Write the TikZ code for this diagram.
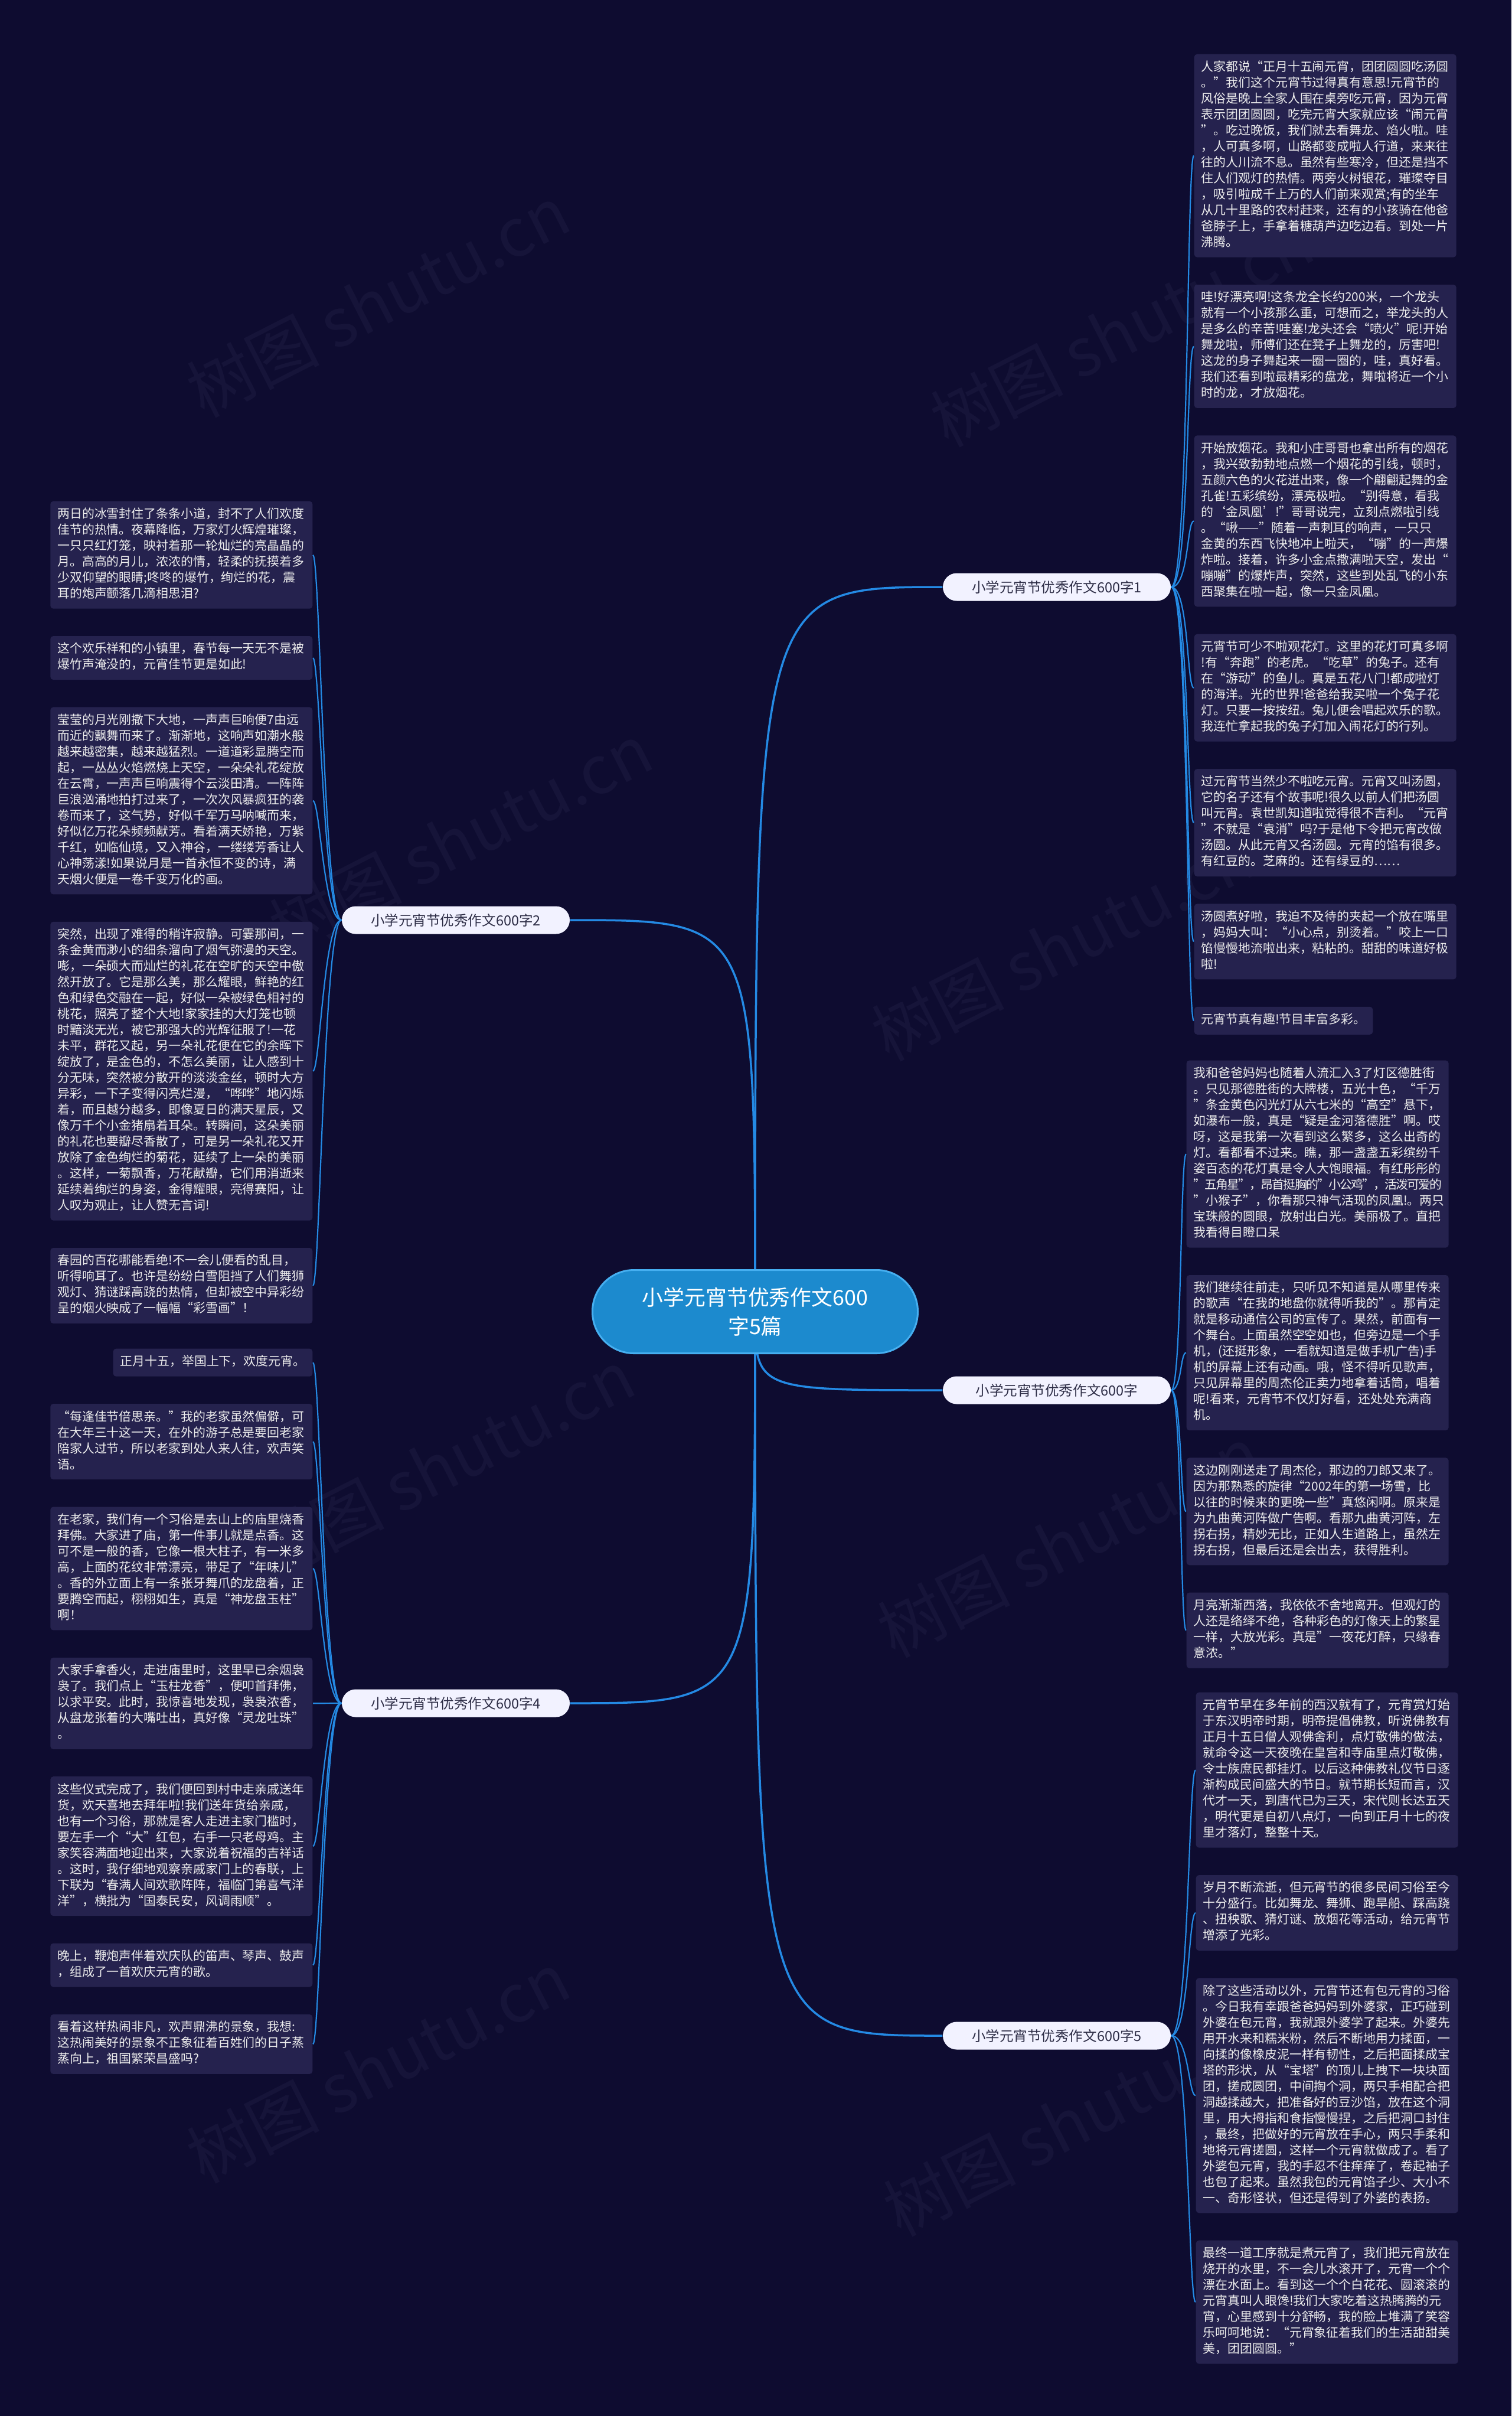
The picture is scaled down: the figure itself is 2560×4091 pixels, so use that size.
\documentclass[tikz,border=0pt]{standalone}
\usepackage{fontspec}
\setmainfont{Noto Sans CJK SC}
\usetikzlibrary{positioning,backgrounds}
\definecolor{bgnavy}{RGB}{14,12,48}
\definecolor{cardnavy}{RGB}{37,34,78}
\definecolor{linkblue}{RGB}{36,138,228}
\definecolor{hubblue}{RGB}{28,138,206}
\definecolor{hubrim}{RGB}{70,175,240}
\definecolor{pillink}{RGB}{45,45,70}
\definecolor{marknavy}{RGB}{22,20,57}

\begin{document}
\begin{tikzpicture}[
  x=0.1mm, y=-0.1mm,
  node distance=4.5mm,
  cardbase/.style={fill=cardnavy, rounded corners=0.5mm, text=white!93!black, font=\fontsize{5.95pt}{7.68pt}\selectfont, inner xsep=1.2mm, inner ysep=1mm, execute at begin node=\strut, execute at end node=\strut},
  card/.style={cardbase, text width=42mm, align=left},
  note/.style={cardbase},
  pill/.style={fill=white!95!blue, rounded corners=2.35mm, minimum width=38.6mm, minimum height=4.7mm, inner sep=0pt, text=pillink, font=\fontsize{6.7pt}{8pt}\selectfont},
  hub/.style={fill=hubblue, draw=hubrim, line width=0.3mm, rounded corners=7mm, minimum width=55.1mm, minimum height=14.1mm, align=center, text=white, font=\fontsize{10.2pt}{14pt}\selectfont},
  trunk/.style={draw=linkblue, line width=0.35mm},
  twig/.style={draw=linkblue, line width=0.22mm},
  wmark/.style={text=marknavy, rotate=27, font=\fontsize{32pt}{32pt}\selectfont}
]
\useasboundingbox (0,0) rectangle (2560,4091);

% centre and the five essays
\node[hub] (hub) at (1279,2221) {小学元宵节优秀作文600\\字5篇};
\node[pill] (s1) at (1790,994) {小学元宵节优秀作文600字1};
\node[pill] (s2) at (772,1558) {小学元宵节优秀作文600字2};
\node[pill] (s3) at (1790,2354) {小学元宵节优秀作文600字};
\node[pill] (s4) at (772,2884) {小学元宵节优秀作文600字4};
\node[pill] (s5) at (1790,3447) {小学元宵节优秀作文600字5};

% essay 1
\node[card, anchor=north west] (r1) at (2022,91) {人家都说“正月十五闹元宵，团团圆圆吃汤圆\\
。”我们这个元宵节过得真有意思!元宵节的\\
风俗是晚上全家人围在桌旁吃元宵，因为元宵\\
表示团团圆圆，吃完元宵大家就应该“闹元宵\\
”。吃过晚饭，我们就去看舞龙、焰火啦。哇\\
，人可真多啊，山路都变成啦人行道，来来往\\
往的人川流不息。虽然有些寒冷，但还是挡不\\
住人们观灯的热情。两旁火树银花，璀璨夺目\\
，吸引啦成千上万的人们前来观赏;有的坐车\\
从几十里路的农村赶来，还有的小孩骑在他爸\\
爸脖子上，手拿着糖葫芦边吃边看。到处一片\\
沸腾。};
\node[card, below=of r1] (r2) {哇!好漂亮啊!这条龙全长约200米，一个龙头\\
就有一个小孩那么重，可想而之，举龙头的人\\
是多么的辛苦!哇塞!龙头还会“喷火”呢!开始\\
舞龙啦，师傅们还在凳子上舞龙的，厉害吧!\\
这龙的身子舞起来一圈一圈的，哇，真好看。\\
我们还看到啦最精彩的盘龙，舞啦将近一个小\\
时的龙，才放烟花。};
\node[card, below=of r2] (r3) {开始放烟花。我和小庄哥哥也拿出所有的烟花\\
，我兴致勃勃地点燃一个烟花的引线，顿时，\\
五颜六色的火花迸出来，像一个翩翩起舞的金\\
孔雀!五彩缤纷，漂亮极啦。“别得意，看我\\
的‘金凤凰’!”哥哥说完，立刻点燃啦引线\\
。“啾——”随着一声刺耳的响声，一只只\\
金黄的东西飞快地冲上啦天，“嘣”的一声爆\\
炸啦。接着，许多小金点撒满啦天空，发出“\\
嘣嘣”的爆炸声，突然，这些到处乱飞的小东\\
西聚集在啦一起，像一只金凤凰。};
\node[card, below=of r3] (r4) {元宵节可少不啦观花灯。这里的花灯可真多啊\\
!有“奔跑”的老虎。“吃草”的兔子。还有\\
在“游动”的鱼儿。真是五花八门!都成啦灯\\
的海洋。光的世界!爸爸给我买啦一个兔子花\\
灯。只要一按按纽。兔儿便会唱起欢乐的歌。\\
我连忙拿起我的兔子灯加入闹花灯的行列。};
\node[card, below=of r4] (r5) {过元宵节当然少不啦吃元宵。元宵又叫汤圆，\\
它的名子还有个故事呢!很久以前人们把汤圆\\
叫元宵。袁世凯知道啦觉得很不吉利。“元宵\\
”不就是“袁消”吗?于是他下令把元宵改做\\
汤圆。从此元宵又名汤圆。元宵的馅有很多。\\
有红豆的。芝麻的。还有绿豆的……};
\node[card, below=of r5] (r6) {汤圆煮好啦，我迫不及待的夹起一个放在嘴里\\
，妈妈大叫：“小心点，别烫着。”咬上一口\\
馅慢慢地流啦出来，粘粘的。甜甜的味道好极\\
啦!};
\node[note, below=of r6.south west, anchor=north west] (r7) {元宵节真有趣!节目丰富多彩。};

% essay 3
\node[card, anchor=north west] (r8) at (2009,1795) {我和爸爸妈妈也随着人流汇入3了灯区德胜街\\
。只见那德胜街的大牌楼，五光十色，“千万\\
”条金黄色闪光灯从六七米的“高空”悬下，\\
如瀑布一般，真是“疑是金河落德胜”啊。哎\\
呀，这是我第一次看到这么繁多，这么出奇的\\
灯。看都看不过来。瞧，那一盏盏五彩缤纷千\\
姿百态的花灯真是令人大饱眼福。有红彤彤的\\
{\addfontfeature{LetterSpace=-9}"五角星"，昂首挺胸的"小公鸡"，活泼可爱的}\\
"小猴子"，你看那只神气活现的凤凰!。两只\\
宝珠般的圆眼，放射出白光。美丽极了。直把\\
我看得目瞪口呆};
\node[card, below=of r8] (r9) {我们继续往前走，只听见不知道是从哪里传来\\
的歌声“在我的地盘你就得听我的”。那肯定\\
就是移动通信公司的宣传了。果然，前面有一\\
个舞台。上面虽然空空如也，但旁边是一个手\\
机，(还挺形象，一看就知道是做手机广告)手\\
机的屏幕上还有动画。哦，怪不得听见歌声，\\
只见屏幕里的周杰伦正卖力地拿着话筒，唱着\\
呢!看来，元宵节不仅灯好看，还处处充满商\\
机。};
\node[card, below=of r9] (r10) {这边刚刚送走了周杰伦，那边的刀郎又来了。\\
因为那熟悉的旋律“2002年的第一场雪，比\\
以往的时候来的更晚一些”真悠闲啊。原来是\\
为九曲黄河阵做广告啊。看那九曲黄河阵，左\\
拐右拐，精妙无比，正如人生道路上，虽然左\\
拐右拐，但最后还是会出去，获得胜利。};
\node[card, below=of r10] (r11) {月亮渐渐西落，我依依不舍地离开。但观灯的\\
人还是络绎不绝，各种彩色的灯像天上的繁星\\
一样，大放光彩。真是"一夜花灯醉，只缘春\\
意浓。"};

% essay 5
\node[card, anchor=north west] (r12) at (2025,2865) {元宵节早在多年前的西汉就有了，元宵赏灯始\\
于东汉明帝时期，明帝提倡佛教，听说佛教有\\
正月十五日僧人观佛舍利，点灯敬佛的做法，\\
就命令这一天夜晚在皇宫和寺庙里点灯敬佛，\\
令士族庶民都挂灯。以后这种佛教礼仪节日逐\\
渐构成民间盛大的节日。就节期长短而言，汉\\
代才一天，到唐代已为三天，宋代则长达五天\\
，明代更是自初八点灯，一向到正月十七的夜\\
里才落灯，整整十天。};
\node[card, below=of r12] (r13) {岁月不断流逝，但元宵节的很多民间习俗至今\\
十分盛行。比如舞龙、舞狮、跑旱船、踩高跷\\
、扭秧歌、猜灯谜、放烟花等活动，给元宵节\\
增添了光彩。};
\node[card, below=of r13] (r14) {除了这些活动以外，元宵节还有包元宵的习俗\\
。今日我有幸跟爸爸妈妈到外婆家，正巧碰到\\
外婆在包元宵，我就跟外婆学了起来。外婆先\\
用开水来和糯米粉，然后不断地用力揉面，一\\
向揉的像橡皮泥一样有韧性，之后把面揉成宝\\
塔的形状，从“宝塔”的顶儿上拽下一块块面\\
团，搓成圆团，中间掏个洞，两只手相配合把\\
洞越揉越大，把准备好的豆沙馅，放在这个洞\\
里，用大拇指和食指慢慢捏，之后把洞口封住\\
，最终，把做好的元宵放在手心，两只手柔和\\
地将元宵搓圆，这样一个元宵就做成了。看了\\
外婆包元宵，我的手忍不住痒痒了，卷起袖子\\
也包了起来。虽然我包的元宵馅子少、大小不\\
一、奇形怪状，但还是得到了外婆的表扬。};
\node[card, below=of r14] (r15) {最终一道工序就是煮元宵了，我们把元宵放在\\
烧开的水里，不一会儿水滚开了，元宵一个个\\
漂在水面上。看到这一个个白花花、圆滚滚的\\
元宵真叫人眼馋!我们大家吃着这热腾腾的元\\
宵，心里感到十分舒畅，我的脸上堆满了笑容\\
乐呵呵地说：“元宵象征着我们的生活甜甜美\\
美，团团圆圆。”};

% essay 2
\node[card, anchor=north east] (l1) at (530,848) {两日的冰雪封住了条条小道，封不了人们欢度\\
佳节的热情。夜幕降临，万家灯火辉煌璀璨，\\
一只只红灯笼，映衬着那一轮灿烂的亮晶晶的\\
月。高高的月儿，浓浓的情，轻柔的抚摸着多\\
少双仰望的眼睛;咚咚的爆竹，绚烂的花，震\\
耳的炮声颤落几滴相思泪?};
\node[card, below=of l1] (l2) {这个欢乐祥和的小镇里，春节每一天无不是被\\
爆竹声淹没的，元宵佳节更是如此!};
\node[card, below=of l2] (l3) {莹莹的月光刚撒下大地，一声声巨响便7由远\\
而近的飘舞而来了。渐渐地，这响声如潮水般\\
越来越密集，越来越猛烈。一道道彩显腾空而\\
起，一丛丛火焰燃烧上天空，一朵朵礼花绽放\\
在云霄，一声声巨响震得个云淡田清。一阵阵\\
巨浪汹涌地拍打过来了，一次次风暴疯狂的袭\\
卷而来了，这气势，好似千军万马呐喊而来，\\
好似亿万花朵频频献芳。看着满天娇艳，万紫\\
千红，如临仙境，又入神谷，一缕缕芳香让人\\
心神荡漾!如果说月是一首永恒不变的诗，满\\
天烟火便是一卷千变万化的画。};
\node[card, below=of l3] (l4) {突然，出现了难得的稍许寂静。可霎那间，一\\
条金黄而渺小的细条溜向了烟气弥漫的天空。\\
嘭，一朵硕大而灿烂的礼花在空旷的天空中傲\\
然开放了。它是那么美，那么耀眼，鲜艳的红\\
色和绿色交融在一起，好似一朵被绿色相衬的\\
桃花，照亮了整个大地!家家挂的大灯笼也顿\\
时黯淡无光，被它那强大的光辉征服了!一花\\
未平，群花又起，另一朵礼花便在它的余晖下\\
绽放了，是金色的，不怎么美丽，让人感到十\\
分无味，突然被分散开的淡淡金丝，顿时大方\\
异彩，一下子变得闪亮烂漫，“哗哗”地闪烁\\
着，而且越分越多，即像夏日的满天星辰，又\\
像万千个小金猪扇着耳朵。转瞬间，这朵美丽\\
的礼花也要瓣尽香散了，可是另一朵礼花又开\\
放除了金色绚烂的菊花，延续了上一朵的美丽\\
。这样，一菊飘香，万花献瓣，它们用消逝来\\
延续着绚烂的身姿，金得耀眼，亮得赛阳，让\\
人叹为观止，让人赞无言词!};
\node[card, below=of l4] (l5) {春园的百花哪能看绝!不一会儿便看的乱目，\\
听得响耳了。也许是纷纷白雪阻挡了人们舞狮\\
观灯、猜谜踩高跷的热情，但却被空中异彩纷\\
呈的烟火映成了一幅幅“彩雪画”！};

% essay 4
\node[note, anchor=north east] (l6) at (530,2283) {正月十五，举国上下，欢度元宵。};
\node[card, below=of l6.south east, anchor=north east] (l7) {“每逢佳节倍思亲。”我的老家虽然偏僻，可\\
在大年三十这一天，在外的游子总是要回老家\\
陪家人过节，所以老家到处人来人往，欢声笑\\
语。};
\node[card, below=of l7] (l8) {在老家，我们有一个习俗是去山上的庙里烧香\\
拜佛。大家进了庙，第一件事儿就是点香。这\\
可不是一般的香，它像一根大柱子，有一米多\\
高，上面的花纹非常漂亮，带足了“年味儿”\\
。香的外立面上有一条张牙舞爪的龙盘着，正\\
要腾空而起，栩栩如生，真是“神龙盘玉柱”\\
啊！};
\node[card, below=of l8] (l9) {大家手拿香火，走进庙里时，这里早已余烟袅\\
袅了。我们点上“玉柱龙香”，便叩首拜佛，\\
以求平安。此时，我惊喜地发现，袅袅浓香，\\
从盘龙张着的大嘴吐出，真好像“灵龙吐珠”\\
。};
\node[card, below=of l9] (l10) {这些仪式完成了，我们便回到村中走亲戚送年\\
货，欢天喜地去拜年啦!我们送年货给亲戚，\\
也有一个习俗，那就是客人走进主家门槛时，\\
要左手一个“大”红包，右手一只老母鸡。主\\
家笑容满面地迎出来，大家说着祝福的吉祥话\\
。这时，我仔细地观察亲戚家门上的春联，上\\
下联为“春满人间欢歌阵阵，福临门第喜气洋\\
洋”，横批为“国泰民安，风调雨顺”。};
\node[card, below=of l10] (l11) {晚上，鞭炮声伴着欢庆队的笛声、琴声、鼓声\\
，组成了一首欢庆元宵的歌。};
\node[card, below=of l11] (l12) {看着这样热闹非凡，欢声鼎沸的景象，我想:\\
这热闹美好的景象不正象征着百姓们的日子蒸\\
蒸向上，祖国繁荣昌盛吗?};

% backdrop, watermark and links
\begin{scope}[on background layer]
  \fill[bgnavy] (0,0) rectangle (2560,4091);
  \foreach \x/\y [count=\i] in {640/510, 1900/560, 780/1420, 1800/1600, 750/2480, 1810/2610, 640/3500, 1820/3590}
    \node[wmark] (wm\i) at (\x,\y) {树图 shutu.cn};
  \foreach \s/\side in {s1/west, s3/west, s5/west, s2/east, s4/east}
    \draw[trunk] (hub.center) .. controls (hub.center |- \s.\side) .. (\s.\side);
  \foreach \i in {1,...,7}
    \draw[twig] (s1.east) .. controls +(30,0) and +(-12,0) .. (r\i.west);
  \foreach \i in {8,...,11}
    \draw[twig] (s3.east) .. controls +(18,0) and +(-10,0) .. (r\i.west);
  \foreach \i in {12,...,15}
    \draw[twig] (s5.east) .. controls +(30,0) and +(-12,0) .. (r\i.west);
  \foreach \i in {1,...,5}
    \draw[twig] (s2.west) .. controls +(-30,0) and +(12,0) .. (l\i.east);
  \foreach \i in {6,...,12}
    \draw[twig] (s4.west) .. controls +(-30,0) and +(12,0) .. (l\i.east);
\end{scope}
\end{tikzpicture}
\end{document}
